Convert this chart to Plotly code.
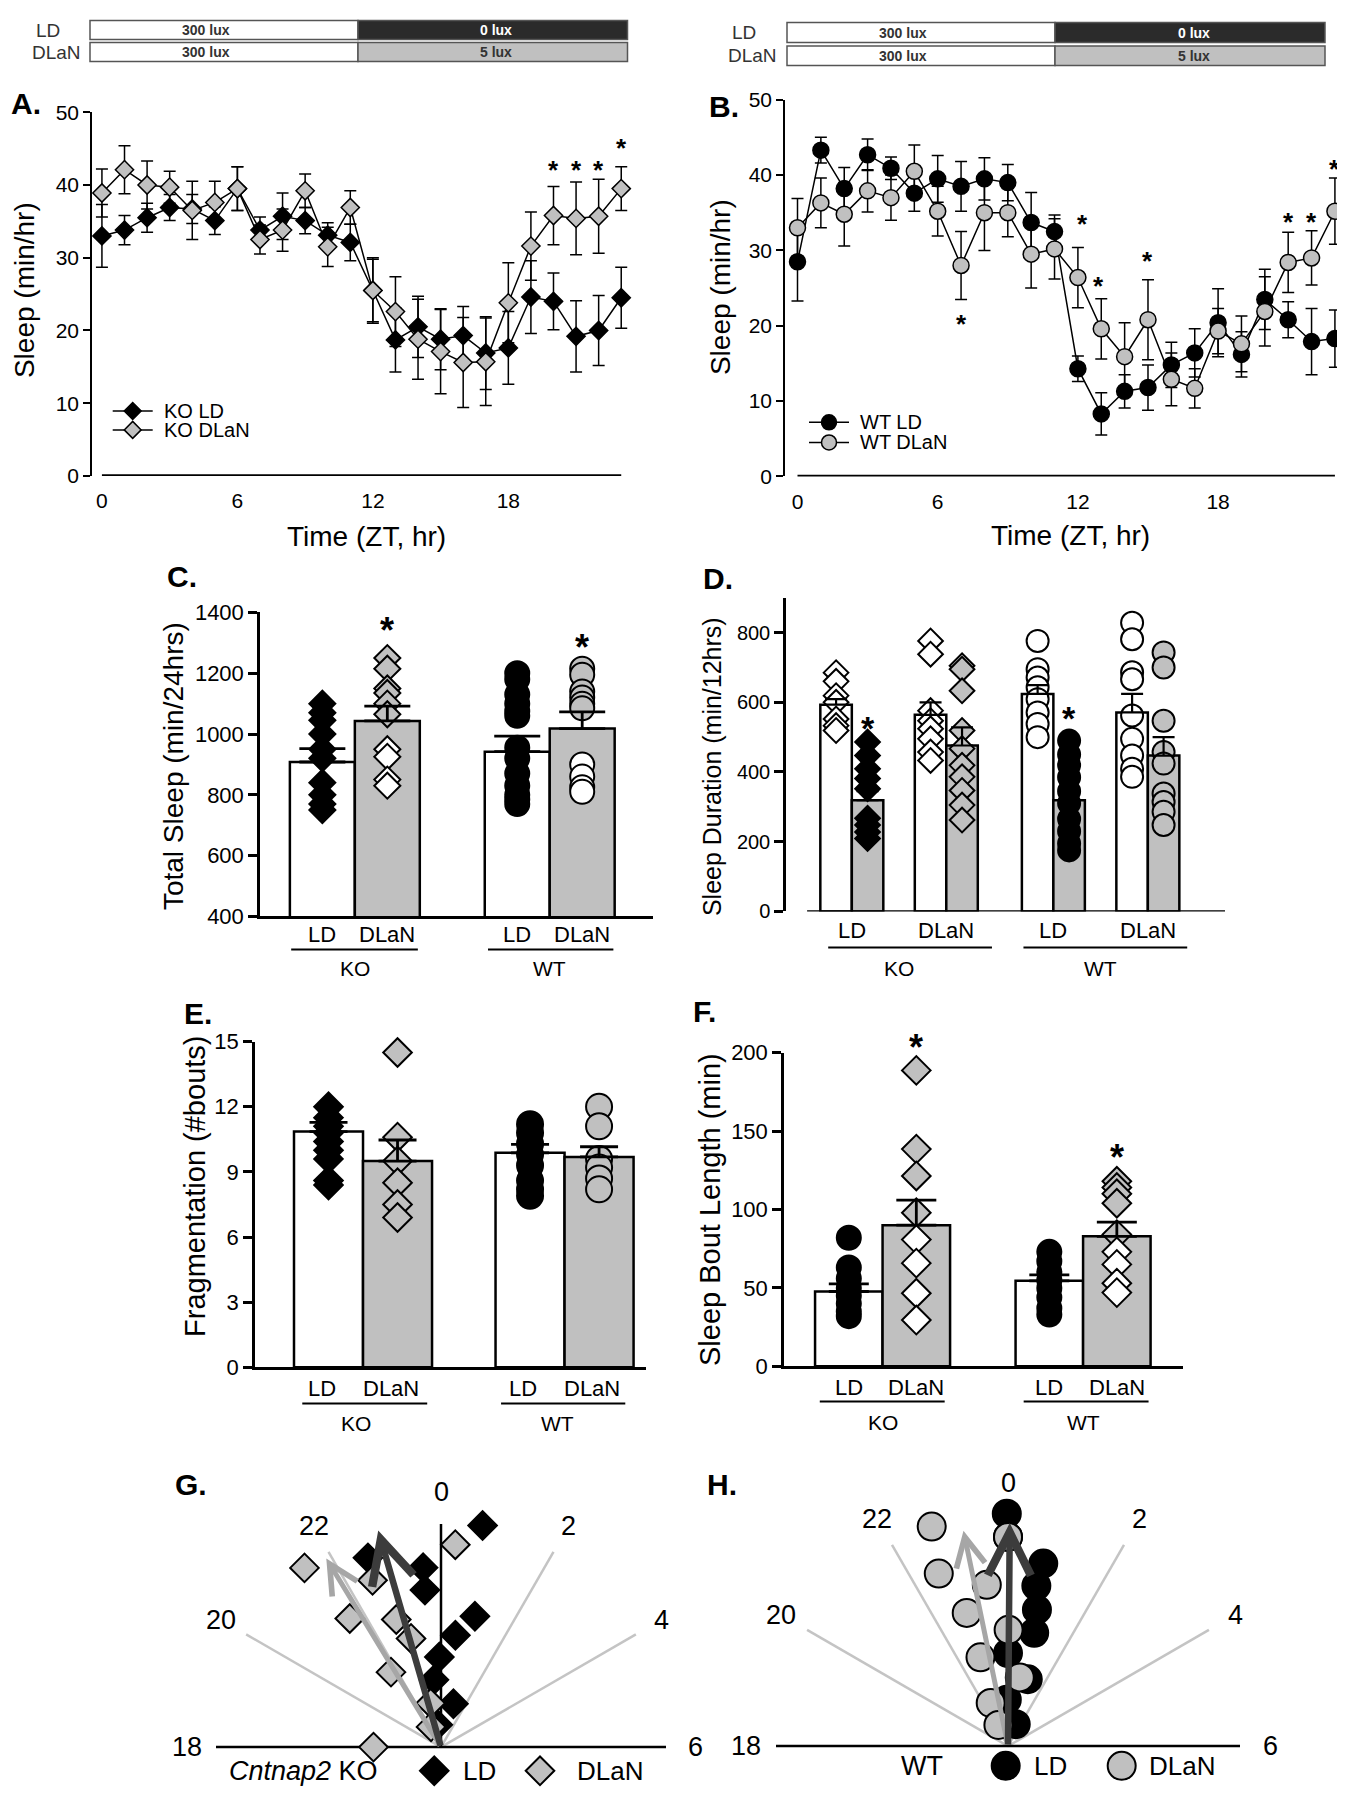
import math
import plotly.graph_objects as go

W, H = 1345, 1800
OFF = 8                      # default body margin of the html page
FW, FH = W - OFF, H - OFF    # figure size
VS, VO = 0.984, 12.6         # measured vertical scale/offset of the captured page
FONT = "Liberation Sans, Arial, Helvetica, sans-serif"
GRAY = "#c0c0c0"

# ---------------- Panel A / B : hourly sleep (min/hr) ----------------
HOURS = list(range(24))
KO_LD = [33.0, 33.8, 35.5, 36.9, 36.7, 35.1, 39.5, 33.8, 35.7, 35.1, 33.1, 32.1,
         25.5, 18.7, 20.5, 18.8, 19.3, 16.9, 17.6, 24.6, 24.0, 19.2, 20.0, 24.5]
KO_LD_SEM = [4.3, 2.0, 2.0, 1.8, 2.0, 1.9, 3.0, 1.8, 3.2, 1.8, 1.7, 2.5,
             4.3, 4.4, 4.2, 4.2, 4.0, 5.0, 5.0, 5.0, 3.9, 4.9, 4.8, 4.2]
KO_DLAN = [38.9, 42.1, 40.0, 39.7, 36.5, 37.6, 39.5, 32.5, 33.8, 39.2, 31.5, 36.9,
           25.5, 22.6, 18.8, 17.1, 15.6, 15.7, 23.8, 31.6, 35.8, 35.4, 35.7, 39.5]
KO_DLAN_SEM = [3.3, 3.3, 3.3, 2.2, 4.0, 2.9, 3.0, 2.0, 2.9, 2.3, 2.7, 2.3,
               4.5, 4.8, 5.5, 5.8, 6.2, 6.0, 5.5, 4.7, 4.0, 5.0, 5.1, 3.0]
KO_STAR_X = [20, 21, 22, 23]
KO_STAR_Y = [42.8, 42.8, 42.8, 45.8]

WT_LD = [28.5, 43.3, 38.2, 42.7, 40.9, 37.6, 39.5, 38.5, 39.5, 39.0, 33.7, 32.5,
         14.3, 8.3, 11.3, 11.8, 14.8, 16.4, 20.4, 16.2, 23.5, 20.8, 17.9, 18.3]
WT_LD_SEM = [5.2, 1.7, 2.8, 2.1, 1.5, 2.4, 3.1, 3.3, 2.8, 2.4, 4.0, 2.2,
             1.7, 2.8, 2.2, 3.0, 3.0, 3.2, 4.5, 3.0, 4.0, 2.4, 4.4, 3.8]
WT_DLAN = [33.0, 36.3, 34.8, 37.9, 37.0, 40.5, 35.2, 28.0, 35.0, 35.0, 29.5, 30.2,
           26.4, 19.6, 15.9, 20.8, 12.9, 11.7, 19.3, 17.6, 21.9, 28.4, 29.0, 35.2]
WT_DLAN_SEM = [3.9, 3.3, 4.2, 2.8, 3.0, 3.5, 3.3, 4.5, 5.0, 3.2, 4.5, 4.0,
               4.0, 4.0, 4.5, 5.3, 3.5, 2.6, 3.0, 3.7, 4.6, 4.0, 3.6, 4.4]
WT_STAR_X = [7, 12.2, 12.9, 15, 21, 22, 23]
WT_STAR_Y = [21.0, 34.3, 26.1, 29.4, 34.5, 34.5, 41.5]
XTICKS_ZT = [0, 6, 12, 18]

# ---------------- Panel C : total sleep ----------------
C_POS = [0, 1, 3, 4]
C_LABELS = ["LD", "DLaN", "LD", "DLaN"]
C_BAR = [908, 1043, 942, 1018]
C_SEM = [44, 49, 51, 55]
C_KO_LD = [1100, 1070, 1045, 1000, 950, 920, 840, 800, 770, 750]
C_KO_DLAN = [1250, 1215, 1150, 1135, 1100, 1065, 950, 925, 850, 830]
C_WT_LD = [1200, 1180, 1130, 1100, 1075, 1060, 955, 920, 870, 830, 800, 785, 770]
C_WT_DLAN = [1215, 1195, 1140, 1120, 1100, 1085, 900, 860, 825, 810]
C_STAR_Y = [1367, 1312]

# ---------------- Panel D : sleep duration per 12 h ----------------
D_POS = [0, 1, 3, 4, 6.4, 7.4, 9.4, 10.4]
D_BAR = [593, 319, 564, 476, 624, 319, 571, 447]
D_SEM = [16, 26, 36, 52, 25, 36, 53, 53]
D_KO_LD_DAY = [685, 660, 619, 600, 552, 533, 519]
D_KO_LD_NIGHT = [486, 447, 409, 381, 352, 267, 248, 228, 209]
D_KO_DLAN_DAY = [776, 738, 576, 547, 524, 495, 457, 433]
D_KO_DLAN_NIGHT = [705, 695, 633, 519, 467, 419, 386, 347, 305, 262]
D_WT_LD_DAY = [776, 695, 671, 643, 609, 571, 538, 500]
D_WT_LD_NIGHT = [490, 450, 420, 385, 345, 310, 265, 230, 195, 175]
D_WT_DLAN_DAY = [828, 781, 686, 666, 562, 495, 447, 409, 386]
D_WT_DLAN_NIGHT = [743, 700, 547, 457, 424, 338, 314, 286, 248]
D_STAR_Y = [547, 576]

# ---------------- Panel E : fragmentation ----------------
E_POS = [0, 1, 2.92, 3.92]
E_BAR = [10.86, 9.5, 9.88, 9.69]
E_SEM = [0.42, 0.97, 0.39, 0.47]
E_KO_LD = [12.0, 11.5, 11.1, 10.8, 10.4, 10.0, 9.6, 8.6, 8.4]
E_KO_DLAN = [14.5, 10.6, 9.5, 8.5, 7.5, 6.9]
E_WT_LD = [11.2, 10.8, 10.3, 9.8, 9.3, 8.6, 8.2, 7.9]
E_WT_DLAN = [12.0, 11.1, 9.6, 9.2, 8.7, 8.2]

# ---------------- Panel F : sleep bout length ----------------
F_POS = [0, 1, 2.97, 3.97]
F_BAR = [47.7, 90.0, 54.5, 82.9]
F_SEM = [4.9, 16.0, 3.8, 9.0]
F_KO_LD = [82, 63, 56, 50, 45, 40, 35, 32]
F_KO_DLAN = [188.7, 138.5, 121.4, 97.9, 80.8, 65.8, 46.6, 29.5]
F_WT_LD = [73, 67, 60, 55, 50, 44, 37, 33]
F_WT_DLAN = [118, 114, 110, 104, 84, 73, 65, 53, 47]
F_STAR_Y = [208, 138.5]

# ---------------- Panels G / H : phase vectors (hour, radius) ----------------
G_LD_HOUR = [0.71, 22.59, 23.62, 23.61, 0.97, 0.49, 23.93, 23.60, 1.07, 23.45]
G_DLAN_HOUR = [21.51, 0.27, 22.51, 21.64, 22.71, 22.97, 21.75, 18.0, 23.11, 22.25]
H_LD_HOUR = [23.98, 0.0, 0.73, 0.67, 0.80, 0.87, 0.0, 1.10, 23.90, 1.30]
H_DLAN_HOUR = [22.72, 0.0, 22.54, 23.50, 22.85, 0.02, 22.85, 0.65, 22.54, 22.37]
RADII = [1.0, 0.9, 0.8, 0.7, 0.6, 0.5, 0.4, 0.3, 0.2, 0.1]
G_ARROW_LD = (22.92, 1.0)
G_ARROW_DLAN = (21.91, 0.98)
H_ARROW_LD = (0.03, 0.96)
H_ARROW_DLAN = (23.22, 0.946)
RAY_HOURS = [20, 22, 2, 4]
CLOCK_LABELS = [0, 2, 4, 6, 18, 20, 22]

# =====================================================================
fig = go.Figure()
ann, shp, lay = [], [], {}


def X(p):
    return (p - OFF) / FW


def Y(p):
    t = (p - VO) / VS
    return 1 - (t - OFF) / FH


def ptext(xp, yp, s, size, bold=False, color="black", angle=0, xanchor="center", yanchor="middle"):
    ann.append(dict(x=X(xp), y=Y(yp), xref="paper", yref="paper",
                    text=f"<b>{s}</b>" if bold else s, showarrow=False,
                    font=dict(family=FONT, size=size, color=color), textangle=angle,
                    xanchor=xanchor, yanchor=yanchor))


def dtext(xref, yref, x, y, s, size, bold=False, yshift=0, color="black"):
    ann.append(dict(x=x, y=y, xref=xref, yref=yref, text=f"<b>{s}</b>" if bold else s,
                    showarrow=False, font=dict(family=FONT, size=size, color=color),
                    xanchor="center", yanchor="middle", yshift=yshift))


def add_axes(i, xdom, xr, ydom, yr):
    s = "" if i == 1 else str(i)
    base = dict(showgrid=False, zeroline=False, showline=False, ticks="", showticklabels=False)
    lay["xaxis" + s] = dict(domain=[X(xdom[0]), X(xdom[1])], range=xr, anchor="y" + s, **base)
    lay["yaxis" + s] = dict(domain=[max(0.0, Y(ydom[1])), min(1.0, Y(ydom[0]))], range=yr,
                            anchor="x" + s, **base)
    return "x" + s, "y" + s, s


def style_y(s, tickvals, size, lw=2.5, tl=9):
    lay["yaxis" + s].update(showline=True, linecolor="black", linewidth=lw, ticks="outside",
                            ticklen=tl, tickwidth=lw, tickcolor="black", tickvals=tickvals,
                            showticklabels=True,
                            tickfont=dict(family=FONT, size=size, color="black"))


def star(xa, ya, x, v, yr, ydom, size, bold):
    """asterisk centred on value v; kept inside the axis range and shifted by pixels if above it"""
    ppu = (ydom[1] - ydom[0]) / (yr[1] - yr[0]) / VS
    extra = max(0.0, v - yr[1]) * ppu
    dtext(xa, ya, x, min(v, yr[1]), "*", size, bold=bold, yshift=extra - 0.22 * size)


# overlay axis in reference pixels, used only for the legend keys of panels A and B
PXA, PYA, _ = add_axes(9, (OFF, W), [OFF, W], (100, 500), [500, 100])


def legend_key(x0, x1, y, sym, fill, size, label):
    fig.add_trace(go.Scatter(x=[x0, x1], y=[y, y], mode="lines", xaxis=PXA, yaxis=PYA,
                             showlegend=False, line=dict(color="black", width=1.5)))
    fig.add_trace(go.Scatter(x=[(x0 + x1) / 2], y=[y], mode="markers", xaxis=PXA, yaxis=PYA,
                             showlegend=False,
                             marker=dict(symbol=sym, size=size, color=fill,
                                         line=dict(color="black", width=1.5))))
    ann.append(dict(x=x1 + 9, y=y, xref=PXA, yref=PYA, text=label, showarrow=False,
                    xanchor="left", yanchor="middle",
                    font=dict(family=FONT, size=20, color="black")))


# ---------------- line panels ----------------
def line_panel(i, xdom, xr, ydom, series, stars, sym, msize):
    xa, ya, s = add_axes(i, xdom, xr, ydom, [0, 50])
    style_y(s, list(range(0, 51, 10)), 21, lw=1.5, tl=7)
    lay["xaxis" + s].update(tickvals=XTICKS_ZT, showticklabels=True, ticks="outside", ticklen=6,
                            tickcolor="rgba(0,0,0,0)",
                            tickfont=dict(family=FONT, size=21, color="black"))
    shp.append(dict(type="line", xref=xa, yref=ya, x0=HOURS[0], x1=HOURS[-1], y0=0, y1=0,
                    line=dict(color="black", width=3.5)))
    for name, vals, sem, fill in series:
        fig.add_trace(go.Scatter(
            x=HOURS, y=vals, name=name, showlegend=False, mode="lines+markers",
            xaxis=xa, yaxis=ya, cliponaxis=False,
            line=dict(color="black", width=1.5),
            marker=dict(symbol=sym, size=msize, color=fill, line=dict(color="black", width=1.5)),
            error_y=dict(type="data", array=sem, visible=True, color="black", thickness=1.5, width=6)))
    for sx, sy in zip(*stars):
        star(xa, ya, sx, sy, [0, 50], ydom, 26, True)


line_panel(1, (92, 628), [-0.44, 23.3], (112.5, 475.5),
           [("KO LD", KO_LD, KO_LD_SEM, "black"), ("KO DLaN", KO_DLAN, KO_DLAN_SEM, GRAY)],
           (KO_STAR_X, KO_STAR_Y), "diamond", 14)
line_panel(2, (785, 1341), [-0.535, 23.26], (100, 476),
           [("WT LD", WT_LD, WT_LD_SEM, "black"), ("WT DLaN", WT_DLAN, WT_DLAN_SEM, GRAY)],
           (WT_STAR_X, WT_STAR_Y), "circle", 16)
legend_key(112.7, 152.7, 410.7, "diamond", "black", 13, "KO LD")
legend_key(112.7, 152.7, 429.5, "diamond", GRAY, 13, "KO DLaN")
legend_key(809, 849, 422, "circle", "black", 15, "WT LD")
legend_key(809, 849, 442, "circle", GRAY, 15, "WT DLaN")


# headers (lighting schedule)
def header(x0, xs, x1, y_ld, y_dl, lab_x, lab_x2, t1x, t2x):
    for (ya0, ya1), night, ntxt, ncol in [(y_ld, "#2b2b2b", "0 lux", "white"),
                                           (y_dl, GRAY, "5 lux", "#333333")]:
        shp.append(dict(type="rect", xref="paper", yref="paper", x0=X(x0), x1=X(xs),
                        y0=Y(ya1), y1=Y(ya0), fillcolor="white", line=dict(color="#555555", width=1.5)))
        shp.append(dict(type="rect", xref="paper", yref="paper", x0=X(xs), x1=X(x1),
                        y0=Y(ya1), y1=Y(ya0), fillcolor=night, line=dict(color="#555555", width=1.5)))
        yc = (ya0 + ya1) / 2
        ptext(t1x, yc, "300 lux", 14, bold=True, color="#333333")
        ptext(t2x, yc, ntxt, 14, bold=True, color=ncol)
    ptext(lab_x, (y_ld[0] + y_ld[1]) / 2, "LD", 19, color="#333333")
    ptext(lab_x2, (y_dl[0] + y_dl[1]) / 2, "DLaN", 19, color="#333333")


header(90, 358, 627.5, (21, 40), (43, 62), 48, 56, 206, 496)
header(787, 1055, 1325, (23, 43), (46.5, 66), 744, 752, 903, 1194)

ptext(26, 104, "A.", 30, bold=True)
ptext(724, 107, "B.", 30, bold=True)
ptext(24, 290, "Sleep (min/hr)", 28, angle=-90)
ptext(720, 287, "Sleep (min/hr)", 28, angle=-90)
ptext(366, 536, "Time (ZT, hr)", 28)
ptext(1070, 535, "Time (ZT, hr)", 28)


# ---------------- bar panels ----------------
def bar_panel(i, xdom, xr, ydom, yr, tickvals, tsize, pos, bars, colors, xline=True):
    xa, ya, s = add_axes(i, xdom, xr, ydom, yr)
    style_y(s, tickvals, tsize)
    if xline:
        lay["xaxis" + s].update(showline=True, linewidth=2.5, linecolor="black")
    fig.add_trace(go.Bar(x=pos, y=bars, width=1, xaxis=xa, yaxis=ya, showlegend=False,
                         marker=dict(color=colors, line=dict(color="black", width=2.5))))
    return xa, ya


def points(xa, ya, p, vals, sym, size, fills):
    fig.add_trace(go.Scatter(x=[p] * len(vals), y=vals, mode="markers", xaxis=xa, yaxis=ya,
                             showlegend=False, cliponaxis=False,
                             marker=dict(symbol=sym, size=size, color=fills,
                                         line=dict(color="black", width=2))))


def errbars(xa, ya, pos, bars, sems, cap, thick=2.8):
    fig.add_trace(go.Scatter(x=pos, y=bars, mode="markers", xaxis=xa, yaxis=ya, showlegend=False,
                             cliponaxis=False, marker=dict(size=2, color="rgba(0,0,0,0)"),
                             error_y=dict(type="data", symmetric=False, array=sems,
                                          arrayminus=[0] * len(sems), color="black",
                                          thickness=thick, width=cap)))


def split_fill(vals, bar):
    return [GRAY if v > bar else "white" for v in vals]


def group_labels(xa, labels_x, labels, ly, under, uy, names_x, names, ny, size=22, nsize=21):
    for x, t in zip(labels_x, labels):
        ann.append(dict(x=x, y=Y(ly), xref=xa, yref="paper", text=t, showarrow=False,
                        xanchor="center", yanchor="middle",
                        font=dict(family=FONT, size=size, color="black")))
    for x0, x1 in under:
        shp.append(dict(type="line", xref=xa, yref="paper", x0=x0, x1=x1, y0=Y(uy), y1=Y(uy),
                        line=dict(color="black", width=2)))
    for x, t in zip(names_x, names):
        ann.append(dict(x=x, y=Y(ny), xref=xa, yref="paper", text=t, showarrow=False,
                        xanchor="center", yanchor="middle",
                        font=dict(family=FONT, size=nsize, color="black")))


# C
C_YR, C_YD = [400, 1400], (611.7, 915)
xa, ya = bar_panel(3, (260, 653), [-0.96, 5.09], C_YD, C_YR,
                   list(range(400, 1401, 200)), 22, C_POS, C_BAR, ["white", GRAY, "white", GRAY])
points(xa, ya, C_POS[0], C_KO_LD, "diamond", 20, "black")
points(xa, ya, C_POS[1], C_KO_DLAN, "diamond", 20, split_fill(C_KO_DLAN, C_BAR[1]))
points(xa, ya, C_POS[2], C_WT_LD, "circle", 24, "black")
points(xa, ya, C_POS[3], C_WT_DLAN, "circle", 24, split_fill(C_WT_DLAN, C_BAR[3]))
errbars(xa, ya, C_POS, C_BAR, C_SEM, 23)
for p, v in zip([C_POS[1], C_POS[3]], C_STAR_Y):
    star(xa, ya, p, v, C_YR, C_YD, 36, True)
group_labels(xa, C_POS, C_LABELS, 933,
             [(C_POS[0] - 0.48, C_POS[1] + 0.47), (C_POS[2] - 0.45, C_POS[3] + 0.48)], 948,
             [(C_POS[0] + C_POS[1]) / 2, (C_POS[2] + C_POS[3]) / 2], ["KO", "WT"], 967)
ptext(182, 576, "C.", 30, bold=True)
ptext(173, 765, "Total Sleep (min/24hrs)", 28, angle=-90)

# D
D_YR, D_YD = [0, 900], (597, 910)
xa, ya = bar_panel(4, (786, 1225), [-1.59, 12.35], D_YD, D_YR,
                   list(range(0, 801, 200)), 20, D_POS, D_BAR,
                   ["white", GRAY] * 4, xline=False)
shp.append(dict(type="line", xref=xa, yref=ya, x0=D_POS[0] - 0.92, x1=D_POS[-1] + 1.95, y0=0, y1=0,
                line=dict(color="black", width=2.5)))
points(xa, ya, D_POS[0], D_KO_LD_DAY, "diamond", 19, "white")
points(xa, ya, D_POS[1], D_KO_LD_NIGHT, "diamond", 19, "black")
points(xa, ya, D_POS[2], D_KO_DLAN_DAY, "diamond", 19, "white")
points(xa, ya, D_POS[3], D_KO_DLAN_NIGHT, "diamond", 19, GRAY)
points(xa, ya, D_POS[4], D_WT_LD_DAY, "circle", 22, "white")
points(xa, ya, D_POS[5], D_WT_LD_NIGHT, "circle", 22, "black")
points(xa, ya, D_POS[6], D_WT_DLAN_DAY, "circle", 22, "white")
points(xa, ya, D_POS[7], D_WT_DLAN_NIGHT, "circle", 22, GRAY)
errbars(xa, ya, D_POS, D_BAR, D_SEM, 11, thick=2.2)
for p, v in zip([D_POS[1], D_POS[5]], D_STAR_Y):
    star(xa, ya, p, v, D_YR, D_YD, 34, True)
dpair = [(D_POS[k] + D_POS[k + 1]) / 2 for k in (0, 2, 4, 6)]
group_labels(xa, dpair, ["LD", "DLaN", "LD", "DLaN"], 929,
             [(D_POS[0] - 0.25, D_POS[3] + 0.95), (D_POS[4] - 0.45, D_POS[7] + 0.75)], 946,
             [(D_POS[0] + D_POS[3]) / 2, (D_POS[4] + D_POS[7]) / 2], ["KO", "WT"], 967)
ptext(718, 578, "D.", 30, bold=True)
ptext(712, 766, "Sleep Duration (min/12hrs)", 25, angle=-90)

# E
E_YR, E_YD = [0, 15], (1040, 1365)
xa, ya = bar_panel(5, (255, 646), [-1.065, 4.6], E_YD, E_YR,
                   list(range(0, 16, 3)), 22, E_POS, E_BAR, ["white", GRAY, "white", GRAY])
points(xa, ya, E_POS[0], E_KO_LD, "diamond", 22, "black")
points(xa, ya, E_POS[1], E_KO_DLAN, "diamond", 22, GRAY)
points(xa, ya, E_POS[2], E_WT_LD, "circle", 26, "black")
points(xa, ya, E_POS[3], E_WT_DLAN, "circle", 26, GRAY)
errbars(xa, ya, E_POS, E_BAR, E_SEM, 19)
group_labels(xa, [p - 0.1 for p in E_POS], C_LABELS, 1386,
             [(E_POS[0] - 0.38, E_POS[1] + 0.43), (E_POS[2] - 0.42, E_POS[3] + 0.38)], 1401,
             [(E_POS[0] + E_POS[1]) / 2 - 0.1, (E_POS[2] + E_POS[3]) / 2 - 0.1], ["KO", "WT"], 1421)
ptext(198, 1012, "E.", 30, bold=True)
ptext(195, 1185, "Fragmentation (#bouts)", 29, angle=-90)

# F
F_YR, F_YD = [0, 200], (1051, 1364)
xa, ya = bar_panel(6, (784, 1183), [-0.96, 4.95], F_YD, F_YR,
                   list(range(0, 201, 50)), 22, F_POS, F_BAR, ["white", GRAY, "white", GRAY])
points(xa, ya, F_POS[0], F_KO_LD, "circle", 24, "black")
points(xa, ya, F_POS[1], F_KO_DLAN, "diamond", 22, split_fill(F_KO_DLAN, F_BAR[1]))
points(xa, ya, F_POS[2], F_WT_LD, "circle", 24, "black")
points(xa, ya, F_POS[3], F_WT_DLAN, "diamond", 22, split_fill(F_WT_DLAN, F_BAR[3]))
errbars(xa, ya, F_POS, F_BAR, F_SEM, 20)
for p, v in zip([F_POS[1], F_POS[3]], F_STAR_Y):
    star(xa, ya, p, v, F_YR, F_YD, 36, True)
group_labels(xa, F_POS, C_LABELS, 1385,
             [(F_POS[0] - 0.43, F_POS[1] + 0.42), (F_POS[2] - 0.38, F_POS[3] + 0.47)], 1399,
             [(F_POS[0] + F_POS[1]) / 2, (F_POS[2] + F_POS[3]) / 2], ["KO", "WT"], 1420)
ptext(705, 1010, "F.", 30, bold=True)
ptext(710, 1207, "Sleep Bout Length (min)", 29, angle=-90)


# ---------------- clock panels ----------------
def clock_xy(hours, radii):
    ang = [2 * math.pi * h / 24 for h in hours]
    return ([r * math.sin(a) for r, a in zip(radii, ang)],
            [r * math.cos(a) for r, a in zip(radii, ang)])


P_BOTTOM = VS * H + VO - 1   # lowest reference pixel that is still inside the figure


def clock_panel(i, cx, cy, R, xext, ytop, ld_h, dl_h, sym, size, arrows, zero_line, legend):
    xa, ya, s = add_axes(i, (cx - xext * R, cx + xext * R), [-xext, xext],
                         (cy - ytop * R, P_BOTTOM), [-(P_BOTTOM - cy) / R, ytop])
    rx, ry = [], []
    for h in RAY_HOURS:
        ex, ey = clock_xy([h], [1.0])
        rx += [0, ex[0], None]
        ry += [0, ey[0], None]
    fig.add_trace(go.Scatter(x=rx, y=ry, mode="lines", xaxis=xa, yaxis=ya, showlegend=False,
                             line=dict(color="#c4c4c4", width=2.5)))
    bx, by = clock_xy([18, 6], [1.0, 1.0])
    fig.add_trace(go.Scatter(x=bx, y=by, mode="lines", xaxis=xa, yaxis=ya, showlegend=False,
                             line=dict(color="black", width=2.5)))
    if zero_line:
        vx, vy = clock_xy([0, 0], [0, 0.99])
        fig.add_trace(go.Scatter(x=vx, y=vy, mode="lines", xaxis=xa, yaxis=ya, showlegend=False,
                                 line=dict(color="black", width=2.5)))
    for hours, fill in [(ld_h, "black"), (dl_h, GRAY)]:
        px_, py_ = clock_xy(hours, RADII)
        fig.add_trace(go.Scatter(x=px_, y=py_, mode="markers", xaxis=xa, yaxis=ya, showlegend=False,
                                 cliponaxis=False,
                                 marker=dict(symbol=sym, size=size, color=fill,
                                             line=dict(color="black", width=2))))
    for (h, r), col, wid, asz in arrows:
        tx, ty = clock_xy([h], [r])
        ann.append(dict(x=tx[0], y=ty[0], ax=0, ay=0, xref=xa, yref=ya, axref=xa, ayref=ya,
                        text="", showarrow=True, arrowhead=5, arrowsize=asz, arrowwidth=wid,
                        arrowcolor=col))
    for h in CLOCK_LABELS:
        lx, ly = clock_xy([h], [1.13])
        dtext(xa, ya, lx[0], ly[0], str(h), 27)
    # legend row
    title, tx, ly, key_x, txt_x = legend
    dtext(xa, ya, tx, ly, title, 27)
    fig.add_trace(go.Scatter(x=key_x, y=[ly, ly], mode="markers", xaxis=xa, yaxis=ya,
                             showlegend=False, cliponaxis=False,
                             marker=dict(symbol=sym, size=size, color=["black", GRAY],
                                         line=dict(color="black", width=2))))
    for x, t in zip(txt_x, ["LD", "DLaN"]):
        dtext(xa, ya, x, ly, t, 26)


clock_panel(7, 441, 1744, 225, 1.32, 1.25, G_LD_HOUR, G_DLAN_HOUR, "diamond", 22,
            [(G_ARROW_DLAN, "#a6a6a6", 5, 1.15), (G_ARROW_LD, "#3c3c3c", 6.5, 1.3)], True,
            ("<i>Cntnap2</i> KO", -0.61, -0.105, [-0.03, 0.44], [0.17, 0.75]))
clock_panel(8, 1008, 1743, 232, 1.3, 1.25, H_LD_HOUR, H_DLAN_HOUR, "circle", 28,
            [(H_ARROW_DLAN, "#a6a6a6", 5, 1.15), (H_ARROW_LD, "#3c3c3c", 6.5, 1.3)], False,
            ("WT", -0.37, -0.085, [-0.01, 0.49], [0.185, 0.75]))
ptext(191, 1482, "G.", 30, bold=True)
ptext(722, 1482, "H.", 30, bold=True)

fig.update_layout(width=FW, height=FH, margin=dict(l=0, r=0, t=0, b=0),
                  paper_bgcolor="white", plot_bgcolor="rgba(0,0,0,0)",
                  barmode="overlay", showlegend=False, annotations=ann, shapes=shp,
                  font=dict(family=FONT, color="black"), **lay)
fig.write_html("out.html")
